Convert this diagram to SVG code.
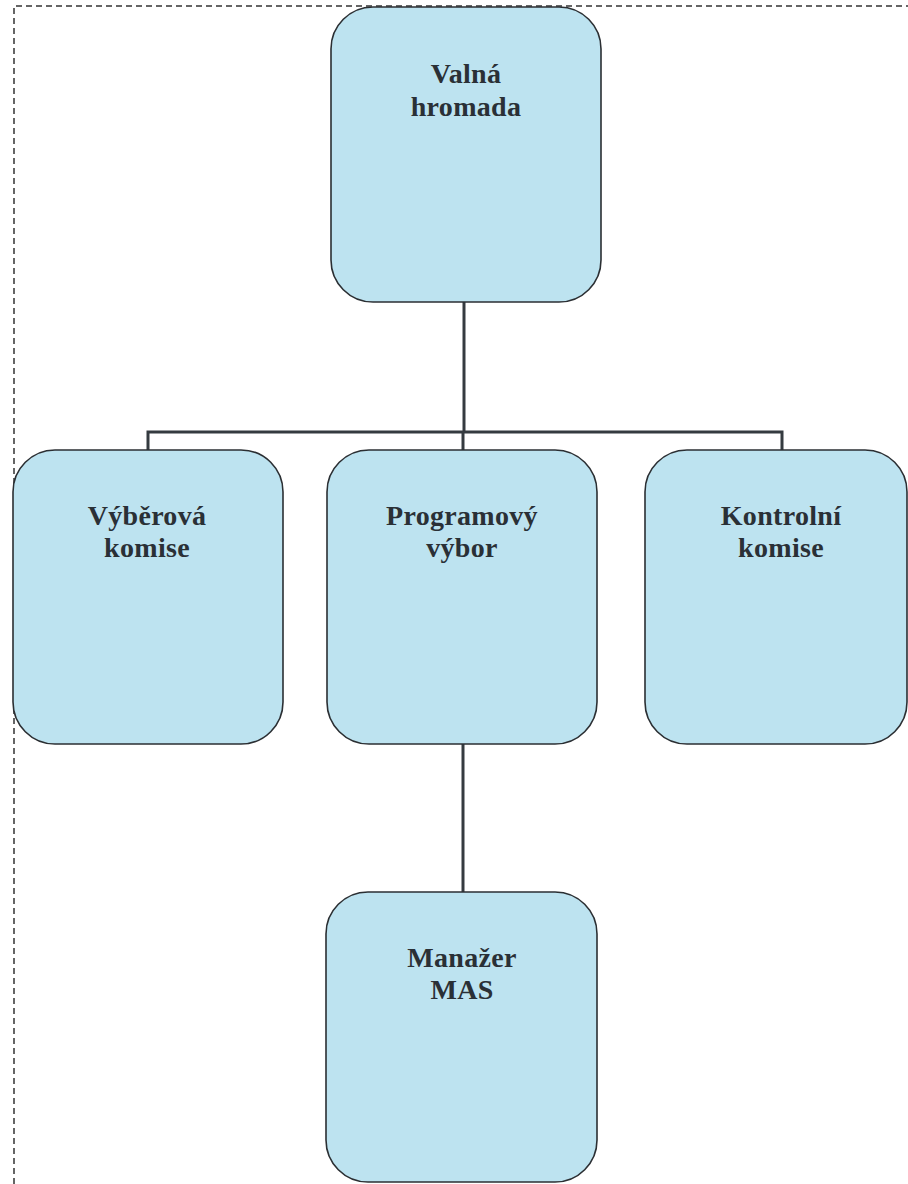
<svg xmlns="http://www.w3.org/2000/svg" width="908" height="1184" viewBox="0 0 908 1184">
<style>
.box{fill:#bde3f0;stroke:#2b2f33;stroke-width:1.6}
.lbl{font-family:"Liberation Serif","Times New Roman",serif;font-weight:bold;font-size:28px;letter-spacing:0.3px;fill:#2a3036;text-anchor:middle}
.con{fill:none;stroke:#353b40;stroke-width:3}
.frame{fill:none;stroke:#333;stroke-width:1.5;stroke-dasharray:6 4}
</style>
<rect width="908" height="1184" fill="#ffffff"/>
<path class="frame" d="M14 1184 V6 H908"/>
<g id="connectors">
<path class="con" d="M464 302 V432"/>
<path class="con" d="M148 450 V432 H782 V450"/>
<path class="con" d="M463 432 V450"/>
<path class="con" d="M463 744 V892"/>
</g>
<g id="valna">
<rect class="box" x="331" y="7" width="270" height="295" rx="42"/>
<text class="lbl" x="466" y="83">Valná</text>
<text class="lbl" x="466" y="116">hromada</text>
</g>
<g id="vyberova">
<rect class="box" x="13" y="450" width="270" height="294" rx="42"/>
<text class="lbl" x="147" y="525">Výběrová</text>
<text class="lbl" x="147" y="557">komise</text>
</g>
<g id="programovy">
<rect class="box" x="327" y="450" width="270" height="294" rx="42"/>
<text class="lbl" x="462" y="525">Programový</text>
<text class="lbl" x="462" y="557">výbor</text>
</g>
<g id="kontrolni">
<rect class="box" x="645" y="450" width="262" height="294" rx="42"/>
<text class="lbl" x="781" y="525">Kontrolní</text>
<text class="lbl" x="781" y="557">komise</text>
</g>
<g id="manazer">
<rect class="box" x="326" y="892" width="271" height="290" rx="42"/>
<text class="lbl" x="462" y="967">Manažer</text>
<text class="lbl" x="462" y="999">MAS</text>
</g>
</svg>
